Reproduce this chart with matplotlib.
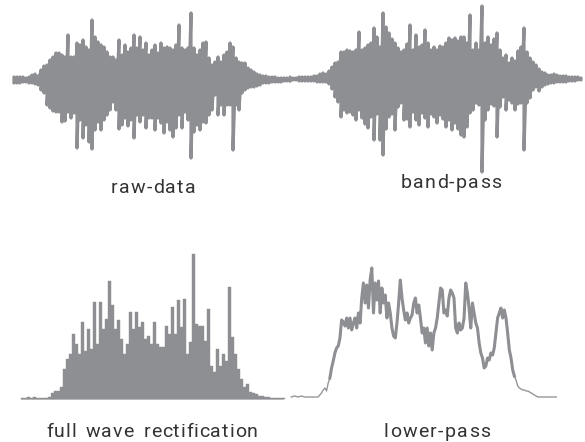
import numpy as np
import matplotlib
matplotlib.use("Agg")
import matplotlib.pyplot as plt
from matplotlib.font_manager import FontProperties, findfont
from matplotlib.ft2font import FT2Font

# ---------------- data (amplitudes) ----------------
raw_upper = [3, 3, 3, 3, 2, 3, 5, 6, 4, 10, 14, 15, 20, 23, 27, 27, 25, 23, 45, 23,
             23, 37, 35, 40, 33, 30, 60, 43, 38, 35, 33, 28, 23, 23, 20, 40, 25, 35, 28, 32,
             45, 32, 43, 30, 37, 25, 30, 35, 27, 37, 32, 33, 32, 30, 35, 55, 32, 30, 32, 67,
             32, 25, 30, 37, 38, 22, 15, 18, 23, 18, 25, 28, 37, 33, 22, 18, 17, 17, 12, 10,
             8, 6, 5, 4, 4, 3, 3, 3, 2, 2, 2, 2, 1]
raw_lower = [3, 3, 3, 2, 2, 3, 3, 4, 5, 10, 13, 25, 28, 31, 32, 32, 42, 41, 32, 38,
             33, 68, 40, 58, 45, 62, 69, 50, 42, 50, 40, 35, 30, 22, 30, 49, 45, 38, 46, 40,
             58, 35, 42, 35, 48, 38, 38, 50, 38, 43, 53, 42, 50, 57, 48, 35, 48, 32, 40, 78,
             52, 45, 50, 42, 43, 35, 30, 15, 35, 25, 35, 25, 25, 70, 25, 30, 13, 10, 8, 7,
             7, 6, 5, 3, 3, 3, 2, 2, 2, 2, 1, 1, 1]

band_upper = [2, 1, 1, 2, 2, 2, 2, 2, 3, 3, 5, 6, 5, 8, 12, 16, 17, 27, 27, 29,
              28, 27, 29, 47, 29, 31, 34, 36, 51, 42, 32, 66, 52, 46, 40, 36, 31, 27, 29, 35,
              54, 29, 44, 32, 34, 49, 36, 29, 32, 29, 33, 32, 36, 41, 39, 41, 38, 42, 42, 36,
              64, 29, 36, 29, 73, 36, 42, 34, 40, 46, 29, 21, 24, 16, 21, 18, 28, 32, 51, 27,
              21, 17, 14, 10, 7, 6, 4, 4, 5, 4, 3, 3, 3, 2, 2, 2, 2, 1]
band_lower = [2, 1, 1, 2, 2, 2, 2, 2, 2, 3, 3, 3, 3, 5, 10, 18, 23, 38, 31, 34,
              33, 36, 41, 31, 39, 45, 49, 38, 61, 35, 61, 76, 50, 38, 35, 51, 28, 24, 41, 40,
              48, 33, 41, 46, 34, 39, 48, 35, 38, 44, 36, 40, 48, 41, 51, 44, 50, 56, 58, 48,
              34, 31, 24, 26, 93, 41, 31, 25, 27, 58, 28, 18, 31, 21, 24, 31, 25, 24, 71, 24,
              19, 11, 8, 12, 8, 6, 5, 4, 4, 3, 3, 3, 3, 2, 2, 2, 1, 1]

rect_values = [1, 1, 2, 1, 2, 1, 1, 1, 1, 2, 6, 8, 8, 12, 30, 40, 45, 65, 55, 45,
               77, 48, 70, 50, 97, 55, 97, 70, 80, 118, 94, 70, 79, 60, 45, 55, 87, 70, 87, 72,
               77, 60, 63, 55, 77, 55, 52, 52, 73, 65, 92, 65, 99, 72, 100, 45, 57, 145, 75, 73,
               73, 58, 90, 33, 27, 50, 33, 45, 38, 112, 62, 45, 30, 20, 12, 15, 7, 6, 5, 3,
               3, 2, 2, 1, 1, 1, 1, 1]

lowpass_values = [1, 1.5, 2, 1.5, 1, 1.5, 2, 1.5, 1, 1, 1, 1, 1, 1, 1, 1, 1, 3, 5, 8,
                  10, 7, 15, 20, 30, 37, 45, 50, 52, 60, 78, 76, 72, 80, 70, 80, 68, 75, 80, 70,
                  85, 75, 100, 115, 95, 113, 90, 118, 130, 85, 115, 98, 117, 85, 110, 95, 103, 80, 95, 85,
                  70, 62, 60, 75, 95, 118, 100, 88, 78, 85, 75, 80, 83, 95, 100, 85, 93, 80, 65,
                  70, 55, 70, 52, 65, 48, 65, 70, 80, 95, 110, 108, 85, 88, 82, 100, 108, 105, 100, 70,
                  65, 75, 68, 70, 80, 115, 105, 90, 70, 95, 85, 75, 70, 55, 45, 40, 30, 32, 40, 38,
                  45, 43, 50, 65, 80, 85, 90, 80, 88, 80, 65, 48, 40, 28, 22, 18, 12, 10, 9, 8,
                  8, 7, 7, 6, 5, 4, 3, 2, 1, 1, 1, 1, 1, 1, 1, 1, 1, 1, 1, 1]

labels = ["raw-data", "band-pass", "full wave rectification", "lower-pass"]

# ---------------- layout ----------------
W, H = 585, 442
GRAY = "#8e8f93"
fig = plt.figure(figsize=(W / 100, H / 100), dpi=100)


def panel(x0, x1, ytop, ybot):
    ax = fig.add_axes([x0 / W, 1 - ybot / H, (x1 - x0) / W, (ybot - ytop) / H])
    ax.set_axis_off()
    return ax


def osc(ax, up, lo, lw):
    n = len(up)
    t = np.repeat(np.arange(n), 2)
    y = np.empty(2 * n)
    y[0::2] = np.asarray(up, float)
    y[1::2] = -np.asarray(lo, float)
    ax.plot(t, y, color=GRAY, lw=lw, solid_capstyle="round", solid_joinstyle="round",
            clip_on=False)
    ax.set_xlim(0, n - 1)


# raw data
ax1 = panel(14, 290, 0, 170)
osc(ax1, raw_upper, raw_lower, 2.3)
ax1.set_ylim(-90, 80)

# band-pass
ax2 = panel(290, 581, 0, 178)
osc(ax2, band_upper, band_lower, 2.3)
ax2.set_ylim(-99, 79)

# full wave rectification
ax3 = panel(22, 283, 240, 399)
n3 = len(rect_values)
ax3.bar(np.arange(n3), rect_values, width=1.0, color=GRAY, edgecolor=GRAY, lw=0.3,
        clip_on=False)
ax3.axhline(0, color="#b9b9bb", lw=1.2, clip_on=False, zorder=0)
ax3.set_xlim(0, n3 - 1)
ax3.set_ylim(0, 159)

# lower-pass
ax4 = panel(291.3, 556.3, 250, 398)
n4 = len(lowpass_values)
t4 = np.arange(n4)
lp = np.asarray(lowpass_values, float)
ax4.plot(t4, lp, color="#96979b", lw=1.0, clip_on=False)
idx = np.where(lp >= 20)[0]
ax4.plot(t4[idx[0]:idx[-1] + 1], lp[idx[0]:idx[-1] + 1], color=GRAY, lw=2.2,
         clip_on=False)
ax4.set_xlim(0, n4 - 1)
ax4.set_ylim(0, 148)

# labels with letter spacing
FS = 14
prop = FontProperties(family="Roboto", weight="normal", size=FS)
ftfont = FT2Font(findfont(prop))
ftfont.set_size(FS, 100)


def advance(ch):
    g = ftfont.load_char(ord(ch))
    return g.linearHoriAdvance / 65536.0


def tracked(text, cx, base_y, track, word_extra=0.0):
    advs = [advance(c) + track + (word_extra if c == " " else 0.0) for c in text]
    total = sum(advs) - track
    x = cx - total / 2
    for c, a in zip(text, advs):
        if c != " ":
            fig.text(x / W, 1 - base_y / H, c, fontproperties=prop, color="#333333",
                     ha="left", va="baseline")
        x += a


tracked(labels[0], 153, 193, 1.2)
tracked(labels[1], 451, 188, 1.3)
tracked(labels[2], 152, 437, 0.9, 3.0)
tracked(labels[3], 437, 437, 1.3)

fig.savefig("out.png", dpi=100)
